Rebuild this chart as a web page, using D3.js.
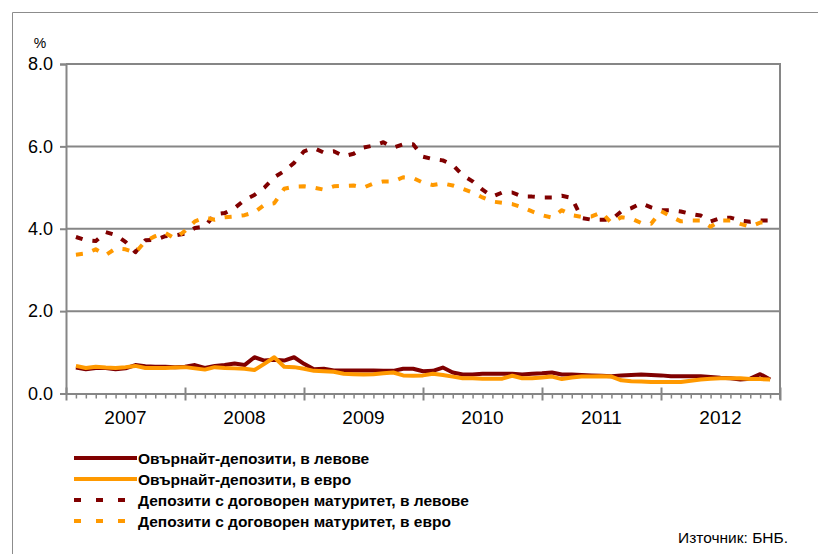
<!DOCTYPE html>
<html><head><meta charset="utf-8">
<script src="https://cdn.jsdelivr.net/npm/d3@7"></script>
<style>
body{margin:0;background:#fff;}
svg{display:block;font-family:"Liberation Sans",Arial,sans-serif;}
</style>
</head><body>
<svg id="c" width="818" height="554"></svg>
<script>
// ---- data ----
const years = ["2007","2008","2009","2010","2011","2012"];
const yTicks = [0, 2, 4, 6, 8];
const seriesNames = [
  "Овърнайт-депозити, в левове",
  "Овърнайт-депозити, в евро",
  "Депозити с договорен матуритет, в левове",
  "Депозити с договорен матуритет, в евро"
];
// monthly values, Jan 2007 – Nov 2012 (plotted at month end)
const overnightBGN = [
  0.63,0.59,0.62,0.62,0.59,0.61,0.69,0.66,0.65,0.65,0.64,0.65,
  0.69,0.62,0.67,0.69,0.73,0.69,0.88,0.80,0.82,0.80,0.88,0.72,
  0.59,0.60,0.56,0.56,0.56,0.56,0.56,0.55,0.55,0.60,0.60,0.54,
  0.55,0.63,0.51,0.46,0.46,0.48,0.48,0.48,0.48,0.46,0.48,0.49,
  0.51,0.46,0.46,0.45,0.44,0.43,0.42,0.44,0.45,0.46,0.45,0.44,
  0.42,0.42,0.42,0.42,0.40,0.38,0.37,0.34,0.36,0.47,0.34
];
const overnightEUR = [
  0.67,0.62,0.65,0.63,0.62,0.64,0.67,0.62,0.62,0.62,0.63,0.64,
  0.61,0.58,0.64,0.62,0.61,0.60,0.57,0.72,0.88,0.65,0.64,0.60,
  0.55,0.54,0.53,0.48,0.47,0.46,0.47,0.49,0.51,0.44,0.43,0.44,
  0.48,0.45,0.41,0.37,0.37,0.36,0.36,0.36,0.43,0.37,0.37,0.39,
  0.41,0.35,0.39,0.41,0.41,0.42,0.41,0.32,0.30,0.29,0.28,0.28,
  0.28,0.28,0.31,0.34,0.36,0.37,0.37,0.37,0.35,0.35,0.34
];
const termBGN = [
  3.80,3.72,3.70,3.92,3.85,3.68,3.43,3.72,3.73,3.82,3.84,3.88,
  4.02,4.05,4.35,4.38,4.50,4.70,4.82,5.00,5.25,5.40,5.60,5.88,
  5.96,5.85,5.88,5.76,5.82,5.97,6.02,6.10,5.97,6.05,6.05,5.75,
  5.69,5.66,5.55,5.30,5.15,4.95,4.78,4.88,4.88,4.78,4.78,4.76,
  4.76,4.80,4.75,4.26,4.22,4.22,4.22,4.42,4.50,4.62,4.52,4.45,
  4.45,4.42,4.36,4.32,4.18,4.26,4.27,4.20,4.17,4.20,4.20
];
const termEUR = [
  3.37,3.40,3.50,3.36,3.52,3.50,3.42,3.70,3.82,3.90,3.76,3.95,
  4.18,4.27,4.22,4.28,4.30,4.33,4.40,4.58,4.62,4.97,5.02,5.03,
  5.00,4.95,5.03,5.04,5.05,5.00,5.10,5.15,5.15,5.25,5.23,5.12,
  5.06,5.10,5.05,4.97,4.88,4.76,4.66,4.63,4.60,4.52,4.42,4.33,
  4.27,4.45,4.33,4.29,4.30,4.40,4.14,4.28,4.25,4.14,4.12,4.43,
  4.30,4.18,4.20,4.20,4.05,4.20,4.20,4.12,4.05,4.15,4.15
];
const sourceText = "Източник: БНБ.";

// ---- layout ----
const svg = d3.select("#c");
const L = 66, R = 780, T = 64, B = 393.5;
const nMonths = years.length * 12;
const x = d3.scaleLinear().domain([0, nMonths]).range([L, R]);
const y = d3.scaleLinear().domain([0, 8]).range([B, T]);
const grid = "#868686";

// outer frame
svg.append("path").attr("d", "M12.5,554 V12.5 H818").attr("fill","none")
  .attr("stroke", "#8c8c8c").attr("stroke-width", 1);

// gridlines
svg.append("g").selectAll("line").data(yTicks.filter(d => d > 0)).join("line")
  .attr("x1", L).attr("x2", R).attr("y1", d => y(d)).attr("y2", d => y(d))
  .attr("stroke", grid).attr("stroke-width", 2);
// right border
svg.append("line").attr("x1", R).attr("x2", R).attr("y1", T - 1).attr("y2", B + 6)
  .attr("stroke", grid).attr("stroke-width", 2);

// y axis
const yAxis = svg.append("g").attr("transform", `translate(${L},0)`)
  .call(d3.axisLeft(y).tickValues(yTicks).tickFormat(d3.format(".1f")).tickSize(6).tickPadding(7));
yAxis.select(".domain").attr("stroke", grid).attr("stroke-width", 2);
yAxis.selectAll(".tick line").attr("stroke", grid).attr("stroke-width", 2);
yAxis.selectAll(".tick text").attr("font-size", 18).attr("fill", "#000")
  .attr("font-family", "Liberation Sans, Arial, sans-serif");

svg.append("text").attr("x", 40).attr("y", 43).attr("text-anchor", "middle")
  .attr("dominant-baseline", "central").attr("font-size", 14).text("%");

// x axis
const xAxis = svg.append("g").attr("transform", `translate(0,${B})`)
  .call(d3.axisBottom(x).tickValues(d3.range(0, nMonths + 1)).tickFormat("").tickSize(5).tickSizeOuter(0));
xAxis.select(".domain").attr("stroke", grid).attr("stroke-width", 2);
xAxis.selectAll(".tick line").attr("stroke", grid).attr("stroke-width", 1.5);
xAxis.selectAll(".tick").filter(d => d % 12 === 0).select("line")
  .attr("y1", -6).attr("y2", 7).attr("stroke-width", 2);

svg.append("g").selectAll("text").data(years).join("text")
  .attr("x", (d, i) => x(i * 12 + 6)).attr("y", 417)
  .attr("text-anchor", "middle").attr("dominant-baseline", "central")
  .attr("font-size", 19).text(d => d);

// series
const series = [
  {name: seriesNames[0], values: overnightBGN, color: "#800000", dash: null},
  {name: seriesNames[1], values: overnightEUR, color: "#FF9900", dash: null},
  {name: seriesNames[2], values: termBGN, color: "#800000", dash: "7,10"},
  {name: seriesNames[3], values: termEUR, color: "#FF9900", dash: "7,10"}
];
const line = d3.line().x((d, i) => x(i + 1)).y(d => y(d));
const drawOrder = [2, 3, 0, 1];
svg.append("g").selectAll("path").data(drawOrder.map(i => series[i])).join("path")
  .attr("d", d => line(d.values)).attr("fill", "none")
  .attr("stroke", d => d.color).attr("stroke-width", 4)
  .attr("stroke-linejoin", "round")
  .attr("stroke-dasharray", d => d.dash);

// legend
const lg = svg.append("g").selectAll("g").data(series).join("g")
  .attr("transform", (d, i) => `translate(0,${458 + i * 21})`);
lg.append("line").attr("x1", 74).attr("x2", d => d.dash ? 126 : 137).attr("y1", 0).attr("y2", 0)
  .attr("stroke", d => d.color).attr("stroke-width", 4)
  .attr("stroke-dasharray", d => d.dash ? "7,15" : null);
lg.append("text").attr("x", 138).attr("y", 0).attr("dominant-baseline", "central")
  .attr("font-size", 15.5).attr("font-weight", "bold").text(d => d.name);

svg.append("text").attr("x", 788).attr("y", 537).attr("text-anchor", "end")
  .attr("dominant-baseline", "central").attr("font-size", 15.5).text(sourceText);
</script>
</body></html>
